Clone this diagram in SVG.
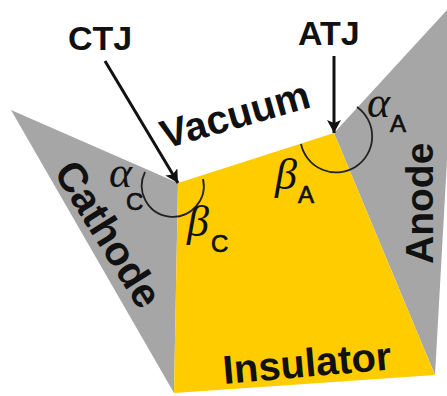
<svg xmlns="http://www.w3.org/2000/svg" width="447" height="396" viewBox="0 0 447 396">
<defs>
<marker id="ah" markerUnits="userSpaceOnUse" markerWidth="14" markerHeight="16" refX="13" refY="7" orient="auto"><path d="M0 0L13 7L0 14L3 7Z" fill="#111"/></marker>
</defs>
<style>
text{font-family:"Liberation Sans",Arial,sans-serif;font-weight:700;fill:#111}
.g{font-family:"Liberation Serif","Times New Roman",serif;font-style:italic;font-weight:400}
.arc{fill:none;stroke:#222;stroke-width:1.8}
.s{font-size:24px;font-weight:400;stroke:#111;stroke-width:.7}
</style>
<rect width="447" height="396" fill="#fff"/>
<g id="cathode"><polygon points="11,110 178,183 174,393" fill="#a6a6a6"/>
<text font-size="41" transform="translate(53,172) rotate(58)">Cathode</text></g>
<g id="anode"><polygon points="334,133 447,10 447,160 435,375" fill="#a6a6a6"/>
<text font-size="39" transform="translate(433,264) rotate(-90)">Anode</text></g>
<g id="insulator"><polygon points="178,183 334,133 435,375 174,393" fill="#ffcc00"/>
<text font-size="40" transform="translate(224,384) rotate(-5)">Insulator</text></g>
<g id="vacuum"><text font-size="40" transform="translate(165,149) rotate(-16)">Vacuum</text></g>
<g id="ctj"><text x="68" y="50" font-size="34">CTJ</text></g>
<g id="atj"><text x="298" y="45" font-size="34">ATJ</text></g>
<g id="angles">
<path class="arc" d="M145 172A31 31 0 1 0 203 179"/>
<path class="arc" d="M357 107A36 36 0 1 1 301 144"/>
<text class="g" x="109" y="187" font-size="44">α</text><text class="s" x="126" y="210">C</text>
<text class="g" x="187" y="236" font-size="44">β</text><text class="s" x="211" y="252">C</text>
<text class="g" x="275" y="189" font-size="44">β</text><text class="s" x="298" y="203">A</text>
<text class="g" x="367" y="117" font-size="44">α</text><text class="s" x="390" y="132">A</text>
</g>
<g id="connectors" fill="none" stroke="#111" stroke-width="3">
<path d="M105 61L178 183" marker-end="url(#ah)"/>
<path d="M334 56V133" marker-end="url(#ah)"/>
</g>
</svg>
